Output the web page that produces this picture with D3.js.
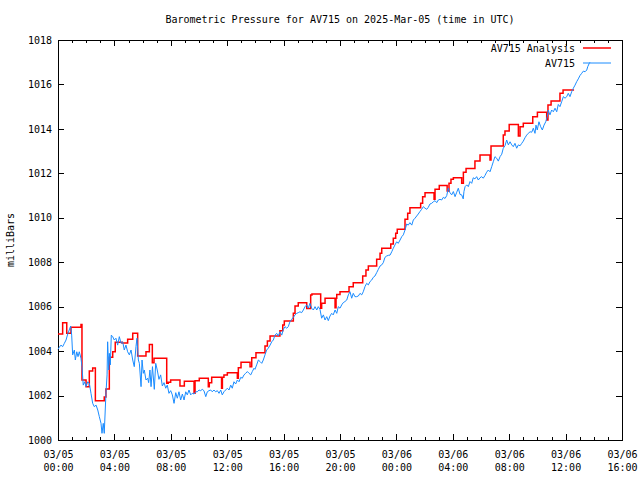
<!DOCTYPE html>
<html><head><meta charset="utf-8">
<script src="https://cdn.jsdelivr.net/npm/d3@7"></script>
<style>body{margin:0;background:#fff}svg{display:block}</style>
</head><body><svg id="c" width="640" height="480"></svg>
<script>
const title = "Barometric Pressure for AV715 on 2025-Mar-05 (time in UTC)";
const yLabel = "milliBars";
const seriesNames = ["AV715 Analysis", "AV715"];
const seriesColors = ["#ff0000", "#1a8cff"];
const yTicks = [1000, 1002, 1004, 1006, 1008, 1010, 1012, 1014, 1016, 1018];
const startTime = "2025-03-05T00:00:00Z";
const spanHours = 40;

// [hours since start, mbar] - step series
const analysis = [
[0,1004.77],[0.33,1005.28],[0.62,1004.8],[0.92,1005.07],[1.63,1005.2],[1.7,1002.7],[1.99,1002.4],[2.22,1003.1],[2.46,1003.24],[2.65,1001.77],[3.28,1001.93],[3.4,1002.29],[3.64,1003.72],[3.88,1003.97],[4.06,1004.4],[4.54,1004.36],[4.94,1004.53],[5.3,1004.8],[5.65,1003.78],[6.24,1003.97],[6.48,1004.3],[6.69,1003.48],[6.81,1003.68],[7.71,1002.55],[7.82,1002.6],[7.99,1002.7],[8.65,1002.43],[8.96,1002.64],[9.65,1002.1],[9.72,1002.67],[10.02,1002.78],[10.66,1002.4],[10.73,1002.58],[10.9,1002.82],[11.6,1002.33],[11.66,1002.82],[11.77,1002.93],[12.01,1003.03],[12.72,1002.78],[12.79,1003.25],[12.98,1003.5],[13.62,1003.3],[13.74,1003.7],[14.04,1003.93],[14.68,1004.23],[14.85,1004.45],[15.04,1004.68],[15.74,1004.92],[15.94,1005.17],[16.05,1005.35],[16.69,1005.7],[16.81,1006.03],[17.04,1006.18],[17.64,1005.92],[17.92,1006.53],[18.01,1006.57],[18.63,1005.93],[18.7,1006.15],[18.94,1006.38],[19.65,1005.95],[19.72,1006.38],[19.77,1006.55],[20.0,1006.67],[20.64,1006.9],[20.94,1007.08],[21.61,1007.38],[21.84,1007.65],[22.01,1007.83],[22.6,1008.13],[22.84,1008.4],[22.96,1008.63],[23.6,1008.82],[23.78,1009.08],[23.95,1009.3],[24.06,1009.48],[24.61,1009.93],[24.8,1010.2],[24.96,1010.45],[25.72,1010.65],[25.86,1010.95],[26.03,1011.13],[26.67,1010.83],[26.74,1011.28],[27.04,1011.45],[27.6,1011.2],[27.73,1011.55],[27.87,1011.73],[28.04,1011.8],[28.63,1011.55],[28.75,1012.05],[28.94,1012.22],[29.57,1012.55],[29.93,1012.82],[30.64,1012.6],[30.71,1013.23],[31.58,1013.73],[31.7,1013.9],[32.0,1014.2],[32.65,1013.68],[32.77,1014.1],[33.0,1014.25],[33.67,1014.55],[34.0,1014.75],[34.66,1014.4],[34.75,1015.07],[34.97,1015.25],[35.6,1015.6],[35.82,1015.75],[36.6,1015.75]
];

// [hours since start, mbar] - observed series
const observed = [
[0.0,1004.08],[0.09,1004.17],[0.21,1004.27],[0.33,1004.2],[0.45,1004.35],[0.57,1004.5],[0.69,1004.77],[0.9,1005.13],[0.97,1004.72],[1.04,1003.83],[1.16,1004.05],[1.23,1003.6],[1.33,1003.97],[1.42,1003.75],[1.51,1003.97],[1.63,1003.68],[1.7,1003.3],[1.79,1002.47],[1.89,1002.62],[1.99,1002.4],[2.11,1002.62],[2.22,1002.55],[2.34,1002.1],[2.46,1001.65],[2.57,1001.5],[2.7,1001.57],[2.82,1001.35],[2.93,1001.05],[3.05,1000.75],[3.12,1000.3],[3.21,1000.75],[3.28,1000.3],[3.35,1001.35],[3.4,1002.1],[3.48,1002.93],[3.52,1004.42],[3.6,1003.15],[3.64,1003.9],[3.71,1003.38],[3.78,1004.72],[3.88,1004.65],[3.99,1004.5],[4.11,1004.58],[4.23,1004.27],[4.35,1004.65],[4.47,1004.35],[4.59,1004.42],[4.7,1004.05],[4.82,1004.27],[4.94,1003.97],[5.06,1003.83],[5.18,1004.05],[5.3,1003.6],[5.41,1003.3],[5.53,1004.2],[5.6,1004.58],[5.7,1003.6],[5.77,1003.45],[5.89,1002.4],[5.96,1003.6],[6.05,1003.0],[6.12,1003.15],[6.24,1002.7],[6.36,1002.78],[6.43,1002.58],[6.52,1003.15],[6.6,1002.4],[6.7,1003.3],[6.83,1002.28],[6.93,1003.45],[7.04,1003.15],[7.16,1002.73],[7.28,1002.93],[7.4,1002.43],[7.52,1002.58],[7.64,1002.33],[7.75,1002.47],[7.87,1002.1],[7.99,1002.22],[8.11,1002.03],[8.23,1001.65],[8.35,1002.13],[8.46,1001.88],[8.58,1002.17],[8.7,1001.8],[8.82,1002.07],[8.94,1001.8],[9.06,1002.17],[9.17,1002.03],[9.29,1002.25],[9.41,1002.03],[9.52,1002.1],[9.65,1002.07],[9.77,1002.17],[9.88,1002.17],[10.0,1002.25],[10.12,1002.22],[10.23,1002.28],[10.35,1002.22],[10.48,1001.95],[10.59,1002.17],[10.71,1002.22],[10.83,1002.25],[10.94,1002.17],[11.06,1002.25],[11.18,1002.17],[11.3,1002.22],[11.42,1002.1],[11.54,1002.25],[11.65,1002.03],[11.77,1002.17],[11.89,1002.25],[12.01,1002.33],[12.13,1002.25],[12.25,1002.47],[12.36,1002.33],[12.48,1002.62],[12.6,1002.52],[12.72,1002.7],[12.84,1002.62],[12.96,1002.82],[13.07,1002.78],[13.19,1002.93],[13.31,1003.0],[13.43,1003.08],[13.55,1003.0],[13.67,1002.93],[13.78,1003.08],[13.9,1003.23],[13.97,1003.18],[14.09,1003.38],[14.21,1003.6],[14.33,1003.53],[14.45,1003.45],[14.56,1003.6],[14.68,1003.83],[14.8,1004.05],[14.91,1004.13],[15.04,1004.27],[15.16,1004.42],[15.27,1004.5],[15.39,1004.72],[15.51,1004.8],[15.62,1004.68],[15.74,1004.87],[15.87,1004.72],[15.98,1004.98],[16.1,1005.1],[16.22,1005.03],[16.33,1005.1],[16.45,1005.32],[16.57,1005.43],[16.69,1005.52],[16.81,1005.63],[16.93,1005.7],[17.04,1005.73],[17.16,1005.77],[17.28,1005.73],[17.4,1005.85],[17.52,1006.0],[17.64,1006.08],[17.75,1005.93],[17.87,1006.15],[17.99,1005.93],[18.11,1005.85],[18.23,1006.0],[18.35,1005.85],[18.46,1006.0],[18.58,1005.88],[18.7,1005.48],[18.82,1005.63],[18.94,1005.4],[19.06,1005.55],[19.17,1005.37],[19.29,1005.58],[19.41,1005.7],[19.52,1005.63],[19.65,1005.85],[19.77,1005.7],[19.88,1006.0],[20.0,1005.93],[20.12,1006.08],[20.23,1006.18],[20.35,1006.23],[20.48,1006.3],[20.59,1006.53],[20.71,1006.67],[20.83,1006.38],[20.94,1006.6],[21.06,1006.45],[21.18,1006.45],[21.3,1006.48],[21.42,1006.6],[21.54,1006.53],[21.65,1006.67],[21.77,1006.9],[21.89,1007.05],[22.01,1006.98],[22.13,1007.13],[22.25,1007.2],[22.36,1007.32],[22.48,1007.38],[22.6,1007.53],[22.72,1007.68],[22.84,1007.83],[22.96,1007.88],[23.07,1007.98],[23.19,1008.22],[23.31,1008.28],[23.43,1008.31],[23.55,1008.32],[23.67,1008.47],[23.78,1008.63],[23.9,1008.78],[24.02,1008.92],[24.13,1008.85],[24.26,1009.0],[24.38,1009.15],[24.49,1009.23],[24.61,1009.45],[24.73,1009.72],[24.84,1009.67],[24.96,1009.78],[25.09,1009.67],[25.2,1009.9],[25.32,1009.98],[25.44,1010.08],[25.55,1010.17],[25.67,1010.28],[25.79,1010.38],[25.91,1010.5],[26.03,1010.43],[26.15,1010.38],[26.26,1010.47],[26.38,1010.62],[26.5,1010.65],[26.62,1010.72],[26.74,1010.77],[26.86,1010.68],[26.97,1010.8],[27.09,1010.83],[27.21,1010.8],[27.33,1010.92],[27.45,1010.87],[27.57,1011.0],[27.68,1011.33],[27.8,1011.13],[27.92,1011.03],[28.04,1011.18],[28.16,1010.95],[28.28,1011.15],[28.39,1011.33],[28.51,1011.05],[28.63,1011.03],[28.74,1010.85],[28.79,1011.18],[28.87,1011.4],[28.99,1011.48],[29.1,1011.4],[29.22,1011.63],[29.34,1011.55],[29.45,1011.8],[29.57,1011.75],[29.69,1011.85],[29.81,1011.7],[29.93,1011.8],[30.05,1011.85],[30.16,1011.78],[30.28,1011.9],[30.4,1012.05],[30.52,1012.15],[30.64,1012.07],[30.76,1012.3],[30.87,1012.52],[30.99,1012.75],[31.11,1012.68],[31.23,1012.55],[31.35,1012.75],[31.47,1012.86],[31.58,1013.13],[31.7,1013.24],[31.82,1013.5],[31.94,1013.28],[32.06,1013.42],[32.18,1013.28],[32.29,1013.2],[32.41,1013.35],[32.53,1013.13],[32.65,1013.28],[32.77,1013.24],[32.89,1013.35],[33.0,1013.45],[33.12,1013.6],[33.24,1013.72],[33.35,1013.8],[33.48,1013.87],[33.6,1013.85],[33.71,1014.03],[33.83,1013.8],[33.9,1014.17],[33.99,1013.95],[34.11,1014.32],[34.23,1014.1],[34.35,1013.95],[34.47,1014.17],[34.59,1014.32],[34.7,1014.55],[34.77,1014.85],[34.89,1014.63],[35.01,1014.85],[35.13,1014.77],[35.25,1014.93],[35.37,1014.77],[35.48,1015.1],[35.6,1015.0],[35.72,1015.22],[35.84,1015.45],[35.96,1015.38],[36.08,1015.45],[36.19,1015.6],[36.31,1015.45],[36.43,1015.67],[36.55,1015.83],[36.67,1015.97],[36.79,1016.13],[36.9,1016.25],[37.02,1016.4],[37.14,1016.5],[37.26,1016.6],[37.38,1016.57],[37.5,1016.65],[37.57,1016.8],[37.68,1016.95],[37.73,1017.0]
];

const FONT = "'DejaVu Sans Mono', monospace";
const svg = d3.select("#c");
const L = 58, R = 622, T = 40, B = 440;
const t0 = new Date(startTime);
const toDate = h => new Date(t0.getTime() + h * 3600e3);

const x = d3.scaleUtc().domain([t0, toDate(spanHours)]).range([L, R]);
const y = d3.scaleLinear().domain([yTicks[0], yTicks[yTicks.length - 1]]).range([B, T]);

const fmtDay = d3.utcFormat("%m/%d"), fmtTime = d3.utcFormat("%H:%M");

// minor x ticks (bottom & top)
svg.append("g").attr("transform", `translate(0,${B})`)
  .call(d3.axisBottom(x).ticks(d3.utcHour.every(1)).tickSizeInner(-3).tickSizeOuter(0).tickFormat(""))
  .call(g => g.select(".domain").remove());
svg.append("g").attr("transform", `translate(0,${T})`)
  .call(d3.axisTop(x).ticks(d3.utcHour.every(1)).tickSizeInner(-3).tickSizeOuter(0).tickFormat(""))
  .call(g => g.select(".domain").remove());

// major x ticks
const xb = svg.append("g").attr("transform", `translate(0,${B})`)
  .call(d3.axisBottom(x).ticks(d3.utcHour.every(4)).tickSizeInner(-6).tickSizeOuter(0))
  .call(g => g.select(".domain").remove());
xb.selectAll(".tick text").each(function(d) {
  const t = d3.select(this).text(null).attr("dy", null).attr("y", 0);
  t.append("tspan").attr("x", 0).attr("y", 18).text(fmtDay(d));
  t.append("tspan").attr("x", 0).attr("y", 31).text(fmtTime(d));
});
svg.append("g").attr("transform", `translate(0,${T})`)
  .call(d3.axisTop(x).ticks(d3.utcHour.every(4)).tickSizeInner(-6).tickSizeOuter(0).tickFormat(""))
  .call(g => g.select(".domain").remove());

// y ticks
svg.append("g").attr("transform", `translate(${L},0)`)
  .call(d3.axisLeft(y).tickValues(yTicks).tickSizeInner(-6).tickSizeOuter(0).tickPadding(6).tickFormat(d3.format("d")))
  .call(g => g.select(".domain").remove());
svg.append("g").attr("transform", `translate(${R},0)`)
  .call(d3.axisRight(y).tickValues(yTicks).tickSizeInner(-6).tickSizeOuter(0).tickFormat(""))
  .call(g => g.select(".domain").remove());

svg.selectAll(".tick line").attr("stroke", "#000").attr("shape-rendering", "crispEdges");
svg.selectAll(".tick text").attr("font-family", FONT).attr("font-size", 10).attr("fill", "#000");

// border
svg.append("rect").attr("x", L).attr("y", T).attr("width", R - L).attr("height", B - T)
  .attr("fill", "none").attr("stroke", "#000").attr("shape-rendering", "crispEdges");

// series
const stepLine = d3.line().x(d => x(toDate(d[0]))).y(d => y(d[1])).curve(d3.curveStepAfter);
const line = d3.line().x(d => x(toDate(d[0]))).y(d => y(d[1]));
svg.append("path").datum(analysis).attr("d", stepLine)
  .attr("fill", "none").attr("stroke", seriesColors[0]).attr("stroke-width", 1.5);
svg.append("path").datum(observed).attr("d", line)
  .attr("fill", "none").attr("stroke", seriesColors[1]).attr("stroke-width", 1);

// title
svg.append("text").attr("x", (L + R) / 2).attr("y", 23).attr("text-anchor", "middle")
  .attr("font-family", FONT).attr("font-size", 10).text(title);

// y label
svg.append("text").attr("transform", `translate(14,${(T + B) / 2}) rotate(-90)`)
  .attr("text-anchor", "middle").attr("font-family", FONT).attr("font-size", 10).text(yLabel);

// legend
seriesNames.forEach((n, i) => {
  const ly = 48 + i * 15;
  svg.append("text").attr("x", 575).attr("y", ly + 3.5).attr("text-anchor", "end")
    .attr("font-family", FONT).attr("font-size", 10).text(n);
  svg.append("line").attr("x1", 583).attr("x2", 611).attr("y1", ly).attr("y2", ly)
    .attr("stroke", seriesColors[i]).attr("stroke-width", i === 0 ? 1.5 : 1);
});
</script></body></html>
